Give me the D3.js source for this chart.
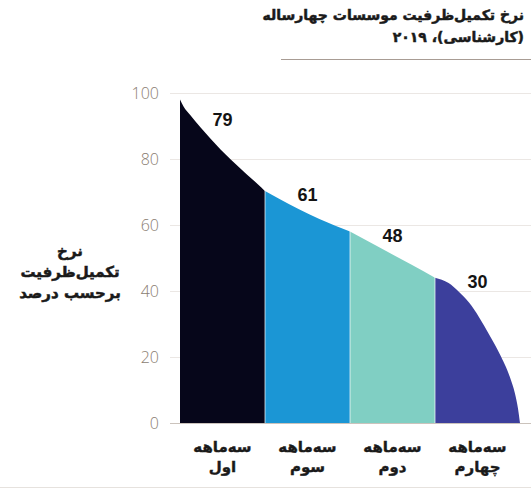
<!DOCTYPE html>
<html><head><meta charset="utf-8">
<script src="https://cdn.jsdelivr.net/npm/d3@7"></script>
<style>
html,body{margin:0;padding:0;background:#fff;}
svg{display:block;}
</style></head>
<body>
<svg id="chart" width="531" height="489"></svg>
<script>
// ---- data ----
const titleLines = ["نرخ تکمیل‌ظرفیت موسسات چهارساله", "(کارشناسی)، ۲۰۱۹"];
const yLabelLines = ["نرخ", "تکمیل‌ظرفیت", "برحسب درصد"];
const yTicks = [0, 20, 40, 60, 80, 100];
// ranked position of institutions (percentile, 0-100) and their fill rate
const rankPct = [0, 1, 3, 6, 9, 12, 15, 18, 21, 24, 25, 29, 35, 41, 50, 59, 68, 75, 79, 82, 85, 88, 91, 94, 97, 98.5, 99.4, 100];
const fillRate = [98, 96, 93.3, 89.6, 86.1, 82.8, 79.8, 76.9, 74.1, 71.3, 70.3, 68, 64.8, 61.8, 58, 53, 48, 44, 42.4, 39.8, 36.5, 32, 26.7, 21, 14, 9, 4.5, 0];
const quartileBounds = [[0, 25], [25, 50], [50, 75], [75, 100]];
const quartileAvg = [79, 61, 48, 30];
const quartileNames = [["سه‌ماهه", "اول"], ["سه‌ماهه", "سوم"], ["سه‌ماهه", "دوم"], ["سه‌ماهه", "چهارم"]];
const quartileColors = ["#06061a", "#1b96d5", "#80cfc3", "#3c3f9c"];

// ---- layout ----
const svg = d3.select("#chart");
const faFont = "'DejaVu Sans', sans-serif";
const ink = "#1a1a1a";
const x = d3.scaleLinear().domain([0, 100]).range([180, 520]);
const y = d3.scaleLinear().domain([0, 100]).range([423, 93]);

// title
titleLines.forEach((t, i) => {
  svg.append("text").attr("x", 524).attr("y", 20 + i * 22)
    .attr("text-anchor", "start").attr("direction", "rtl")
    .attr("font-family", faFont).attr("font-weight", "bold")
    .attr("font-size", 14).attr("fill", ink)
    .attr("stroke", ink).attr("stroke-width", 0.5)
    .text(t);
});
svg.append("line").attr("x1", 281).attr("x2", 531).attr("y1", 59.5).attr("y2", 59.5)
  .attr("stroke", "#a89c94").attr("stroke-width", 1.2);
svg.append("line").attr("x1", 0).attr("x2", 531).attr("y1", 487.5).attr("y2", 487.5)
  .attr("stroke", "#e6e2de").attr("stroke-width", 1);

// grid + y axis
const yAxis = d3.axisLeft(y).tickValues(yTicks).tickSize(-(531 - 170)).tickPadding(11);
const gy = svg.append("g").attr("transform", "translate(170,0)").call(yAxis);
gy.select(".domain").remove();
gy.selectAll(".tick line").attr("stroke", d => d === 0 ? "#cbc3bc" : "#ebe7e4").attr("stroke-width", 1);
gy.selectAll(".tick text").attr("font-family", "'Open Sans', 'Liberation Sans', sans-serif")
  .attr("font-weight", 300).attr("font-size", 16).attr("fill", "#8a7d72");

// y label
yLabelLines.forEach((t, i) => {
  svg.append("text").attr("x", 70).attr("y", 256 + i * 21)
    .attr("text-anchor", "middle").attr("direction", "rtl")
    .attr("font-family", faFont).attr("font-weight", "bold")
    .attr("font-size", 15).attr("fill", ink)
    .attr("stroke", ink).attr("stroke-width", 0.5).text(t);
});

// areas per quartile
const pts = rankPct.map((p, i) => ({p, v: fillRate[i]}));
const area = d3.area().x(d => x(d.p)).y0(y(0)).y1(d => y(d.v)).curve(d3.curveMonotoneX);
const curveAt = p => {
  const i = d3.bisector(d => d.p).left(pts, p);
  if (i <= 0) return pts[0].v;
  const a = pts[i - 1], b = pts[i];
  return a.v + (b.v - a.v) * (p - a.p) / (b.p - a.p);
};
quartileBounds.forEach(([lo, hi], qi) => {
  const seg = pts.filter(d => d.p >= lo && d.p <= hi);
  svg.append("path").datum(seg).attr("d", area).attr("fill", quartileColors[qi]);
});
// thin separators
quartileBounds.slice(1).forEach(([lo]) => {
  svg.append("line").attr("x1", x(lo)).attr("x2", x(lo)).attr("y1", y(curveAt(lo)) - 1).attr("y2", y(0))
    .attr("stroke", "#ffffff").attr("stroke-opacity", 0.7).attr("stroke-width", 1);
});
// average labels
quartileBounds.forEach(([lo, hi], qi) => {
  svg.append("text").attr("x", x((lo + hi) / 2)).attr("y", y(curveAt(lo + 6)) - 1)
    .attr("text-anchor", "middle").attr("font-family", "'Liberation Sans', Arial, sans-serif")
    .attr("font-weight", "bold").attr("font-size", 18).attr("fill", "#141414").text(quartileAvg[qi]);
});
// category labels
quartileBounds.forEach(([lo, hi], qi) => {
  quartileNames[qi].forEach((t, li) => {
    svg.append("text").attr("x", x((lo + hi) / 2)).attr("y", 452 + li * 20)
      .attr("text-anchor", "middle").attr("direction", "rtl")
      .attr("font-family", faFont).attr("font-weight", "bold")
      .attr("font-size", 15).attr("fill", ink)
      .attr("stroke", ink).attr("stroke-width", 0.4).text(t);
  });
});
</script>
</body></html>
